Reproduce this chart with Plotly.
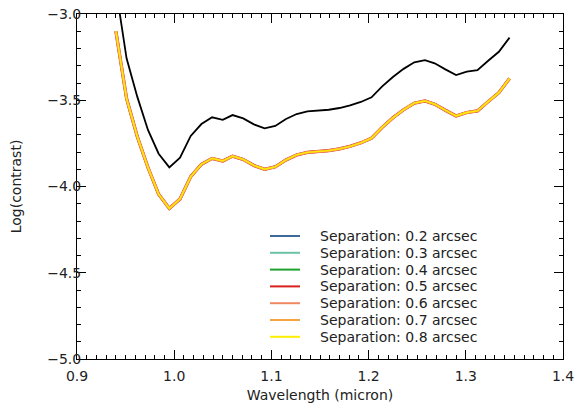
import plotly.graph_objects as go

# Grid panjang gelombang (micron)
wavelength = [
    0.940, 0.951, 0.962, 0.973, 0.984, 0.995, 1.006, 1.017, 1.028, 1.039,
    1.050, 1.060, 1.071, 1.082, 1.093, 1.104, 1.115, 1.126, 1.137, 1.148,
    1.159, 1.170, 1.181, 1.192, 1.203, 1.214, 1.225, 1.236, 1.247, 1.258,
    1.268, 1.279, 1.290, 1.301, 1.312, 1.323, 1.334, 1.345,
]

# Kurva hitam (tanpa label legend)
contrast_black = [
    -2.850, -3.257, -3.479, -3.672, -3.810, -3.889, -3.833, -3.707, -3.638, -3.599,
    -3.614, -3.586, -3.605, -3.640, -3.663, -3.649, -3.609, -3.580, -3.565, -3.560,
    -3.555, -3.545, -3.530, -3.510, -3.483, -3.420, -3.365, -3.318, -3.280, -3.267,
    -3.286, -3.321, -3.354, -3.334, -3.325, -3.271, -3.219, -3.137,
]

# Kurva separasi -- semua nyaris berimpit di plot aslinya
contrast_sep = [
    -3.100, -3.490, -3.710, -3.890, -4.045, -4.127, -4.072, -3.943, -3.871, -3.837,
    -3.852, -3.824, -3.843, -3.878, -3.900, -3.886, -3.846, -3.817, -3.802, -3.797,
    -3.792, -3.782, -3.767, -3.747, -3.720, -3.657, -3.602, -3.555, -3.517, -3.504,
    -3.523, -3.558, -3.591, -3.571, -3.562, -3.508, -3.456, -3.374,
]

separations = [0.2, 0.3, 0.4, 0.5, 0.6, 0.7, 0.8]
sep_colors = ["#3d6a99", "#6cc3a6", "#1fa12d", "#d8201c", "#ef8a62", "#f4a442", "#ffee00"]
sep_widths = [2, 2, 2, 3.2, 2.8, 2.4, 1.4]

FONT = "DejaVu Sans"
TXT = "#222"

# Ukuran area plot dalam piksel (untuk legend manual)
ML, MR, MT, MB = 77, 12, 14, 44
PW, PH = 575 - ML - MR, 403 - MT - MB

fig = go.Figure()
fig.add_trace(
    go.Scatter(
        x=wavelength, y=contrast_black, mode="lines",
        line=dict(color="black", width=1.8), showlegend=False,
    )
)
for sep, col, w in zip(separations, sep_colors, sep_widths):
    fig.add_trace(
        go.Scatter(
            x=wavelength, y=contrast_sep, mode="lines",
            name=f"Separation: {sep} arcsec",
            line=dict(color=col, width=w), showlegend=False,
        )
    )

# Legend manual: baris lebih rapat daripada legend bawaan plotly
for i, (sep, col) in enumerate(zip(separations, sep_colors)):
    ypx = 236 + i * 16.8
    yp = 1 - (ypx - MT) / PH
    fig.add_shape(
        type="line", xref="paper", yref="paper",
        x0=(270 - ML) / PW, x1=(300 - ML) / PW, y0=yp, y1=yp,
        line=dict(color=col, width=2),
    )
    fig.add_annotation(
        xref="paper", yref="paper", x=(318 - ML) / PW, y=yp,
        xanchor="left", yanchor="middle", showarrow=False,
        text=f"Separation: {sep} arcsec",
        font=dict(family=FONT, size=14, color=TXT),
    )

axis_common = dict(
    showline=True, linecolor="black", linewidth=1, mirror="allticks",
    ticks="inside", ticklen=9, tickwidth=1, tickcolor="black",
    showgrid=False, zeroline=False, automargin=False,
    tickfont=dict(family=FONT, size=14, color=TXT),
)

fig.update_xaxes(
    range=[0.9, 1.4], dtick=0.1, tick0=0.9, tickformat=".1f",
    minor=dict(ticks="inside", ticklen=4, dtick=0.01, tickcolor="black", showgrid=False),
    title=dict(text="Wavelength (micron)", font=dict(family=FONT, size=14, color=TXT), standoff=9),
    ticklabelstandoff=4,
    **axis_common,
)
fig.update_yaxes(
    range=[-5.0, -3.0], dtick=0.5, tick0=-5.0, tickformat=".1f",
    minor=dict(ticks="inside", ticklen=4, dtick=0.1, tickcolor="black", showgrid=False),
    title=dict(text="Log(contrast)", font=dict(family=FONT, size=14, color=TXT), standoff=22),
    ticklabelstandoff=-8,
    **axis_common,
)

fig.update_layout(
    width=575, height=403,
    margin=dict(l=ML, r=MR, t=MT, b=MB),
    paper_bgcolor="white", plot_bgcolor="white",
    showlegend=False,
)

# margin bawaan <body> digeser 8px -- dinolkan supaya posisi pas jendela
fig.write_html(
    "out.html",
    config={"displayModeBar": False},
    post_script="document.body.style.margin='0';document.body.style.overflow='hidden';",
)
